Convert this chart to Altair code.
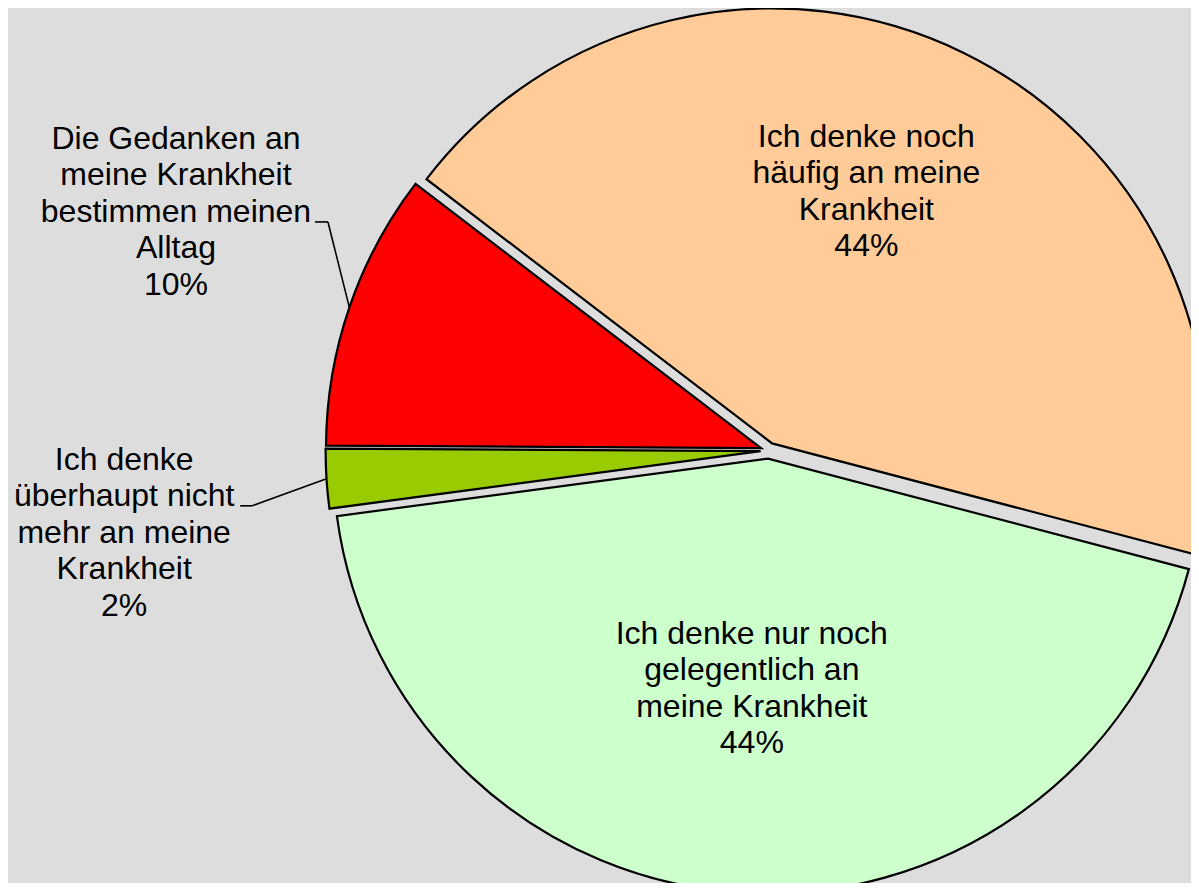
import math
import altair as alt
import pandas as pd

# ---------------- data ----------------
categories = [
    "Ich denke noch häufig an meine Krankheit",
    "Ich denke nur noch gelegentlich an meine Krankheit",
    "Ich denke überhaupt nicht mehr an meine Krankheit",
    "Die Gedanken an meine Krankheit bestimmen meinen Alltag",
]
values = [43.7, 43.8, 2.2, 10.3]
label_text = [
    "Ich denke noch|häufig an meine|Krankheit",
    "Ich denke nur noch|gelegentlich an|meine Krankheit",
    "Ich denke|überhaupt nicht|mehr an meine|Krankheit",
    "Die Gedanken an|meine Krankheit|bestimmen meinen|Alltag",
]
colors = ["#FFCC99", "#CCFFCC", "#99CC00", "#FF0000"]

# ---------------- layout ----------------
W, H = 1183, 875
CX, CY = 760.6, 442.6          # pie centre (px in view)
R = 435                        # pie radius
EXPLODE = 8                    # slice explosion distance
START_DEG = 307.4              # angle of first slice (clockwise from 12 o'clock)
FONT_SIZE = 32
LINE_H = 36.5
label_shift_deg = [-5.5, 0.5, -3.5, 3.2]     # label angle relative to slice middle
label_radius = [0.64, 0.545, 1.493, 1.47]    # label distance as fraction of radius
leader_dx = [0, 0, 128, 152]                 # leader elbow relative to label centre
leader_dy = [0, 0, -25.5, 11.5]
leader_land = [0, 0, 12, 13]                 # horizontal landing length

total = float(sum(values))
start = math.radians(START_DEG)
TAU = 2 * math.pi

df = pd.DataFrame({
    "category": categories,
    "value": values,
    "order": list(range(len(values))),
    "lines": label_text,
    "shift": label_shift_deg,
    "rf": label_radius,
    "ldx": leader_dx,
    "ldy": leader_dy,
    "land": leader_land,
})

base = alt.Chart(df).transform_window(
    cum="sum(value)", sort=[alt.SortField("order")], frame=[None, 0]
).transform_calculate(
    t0="datum.cum - datum.value",
    mid=f"{start} + (datum.cum - datum.value / 2) / {total} * {TAU}",
).transform_calculate(
    sx=f"{CX} + {EXPLODE} * sin(datum.mid)",
    sy=f"{CY} - {EXPLODE} * cos(datum.mid)",
    px=f"{CX} + {R + EXPLODE} * sin(datum.mid)",
    py=f"{CY} - {R + EXPLODE} * cos(datum.mid)",
    la="datum.mid + datum.shift * PI / 180",
    label="datum.lines + '|' + round(datum.value) + '%'",
).transform_calculate(
    lx=f"{CX} + datum.rf * {R} * sin(datum.la)",
    ly=f"{CY} - datum.rf * {R} * cos(datum.la)",
    nlines="split(datum.label, '|').length",
).transform_calculate(
    lyt=f"datum.ly + 1.5 - (datum.nlines - 1) / 2 * {LINE_H}",
    ex="datum.lx + datum.ldx",
    ey="datum.ly + datum.ldy",
    ex2="datum.lx + datum.ldx - datum.land",
)

arcs = base.mark_arc(
    radius=R, stroke="black", strokeWidth=2.2, strokeJoin="miter"
).encode(
    theta=alt.Theta(
        "t0:Q",
        stack=None,
        scale=alt.Scale(domain=[0, total], range=[start, start + TAU], nice=False, zero=False),
    ),
    theta2="cum:Q",
    x=alt.X("sx:Q", scale=None, axis=None),
    y=alt.Y("sy:Q", scale=None, axis=None),
    color=alt.Color("category:N", scale=alt.Scale(domain=categories, range=colors), legend=None),
)

leaders = base.transform_filter("datum.land > 0")

lead1 = leaders.mark_rule(color="black", strokeWidth=1.6).encode(
    x=alt.X("px:Q", scale=None, axis=None),
    y=alt.Y("py:Q", scale=None, axis=None),
    x2="ex:Q",
    y2="ey:Q",
)
lead2 = leaders.mark_rule(color="black", strokeWidth=1.6).encode(
    x=alt.X("ex:Q", scale=None, axis=None),
    y=alt.Y("ey:Q", scale=None, axis=None),
    x2="ex2:Q",
    y2="ey:Q",
)

texts = base.mark_text(
    font="Liberation Sans", fontSize=FONT_SIZE, lineHeight=LINE_H, lineBreak="|",
    align="center", baseline="middle", color="black",
).encode(
    x=alt.X("lx:Q", scale=None, axis=None),
    y=alt.Y("lyt:Q", scale=None, axis=None),
    text="label:N",
)

chart = alt.layer(arcs, lead1, lead2, texts).properties(
    width=W, height=H, background="#DDDDDD", padding=0,
    autosize=alt.AutoSizeParams(type="none"),
).configure_view(strokeWidth=0)

chart.save("out.html", embed_options={"renderer": "svg", "actions": False})
